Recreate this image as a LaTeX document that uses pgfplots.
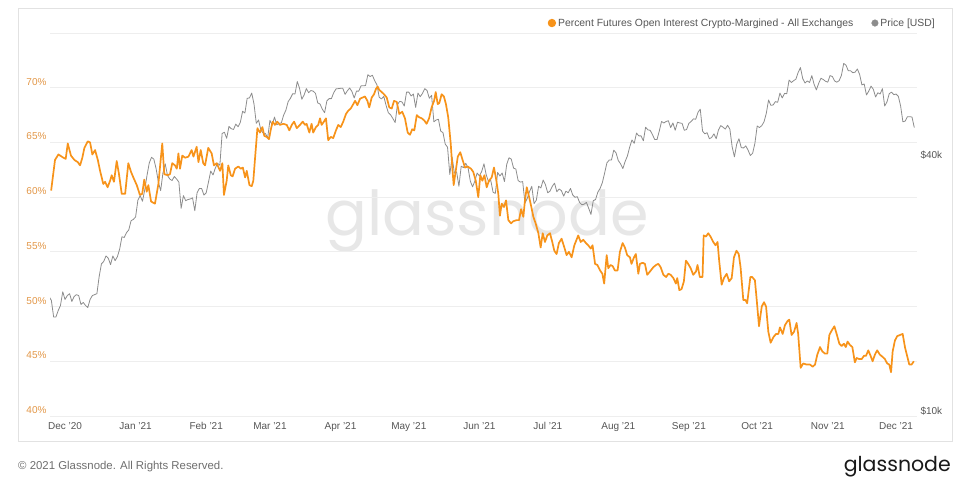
\documentclass[border=0pt]{standalone}
\usepackage{fontspec}
\setmainfont{Liberation Sans}
\newfontfamily\poppins{Poppins}
\usepackage{pgfplots}
\pgfplotsset{compat=1.18}
\definecolor{orangeL}{RGB}{247,147,26}
\definecolor{orangeT}{RGB}{226,150,70}
\definecolor{priceC}{RGB}{140,140,140}
\definecolor{gridC}{RGB}{238,238,238}
\definecolor{frameC}{RGB}{226,226,226}
\definecolor{labC}{RGB}{85,85,85}
\definecolor{wmC}{RGB}{231,231,231}

\pgfplotstableread{
d p
-7 19.1
-6 18.7
-5 17.1
-4 17.1
-3 17.7
-2 18.2
-1 19.6
0 18.8
1 19.2
2 19.4
3 18.6
4 19.1
5 19.3
6 19.2
7 18.3
8 18.5
9 18.2
10 18.0
11 18.8
12 19.2
13 19.3
14 19.4
15 21.3
16 22.8
17 23.1
18 23.8
19 23.5
20 22.7
21 23.8
22 23.2
23 23.7
24 24.7
25 26.4
26 26.3
27 27.0
28 27.4
29 28.8
30 29.0
31 29.4
32 32.2
33 33.0
34 32.0
35 34.0
36 36.8
37 39.4
38 40.6
39 40.2
40 38.2
41 35.5
42 33.9
43 37.3
44 39.2
45 36.8
46 36.1
47 35.8
48 36.6
49 36.1
50 35.5
51 30.8
52 33.0
53 32.1
54 32.3
55 32.4
56 32.6
57 30.4
58 33.5
59 34.3
60 34.3
61 33.1
62 33.5
63 35.5
64 37.7
65 36.9
66 38.3
67 39.3
68 38.9
69 46.2
70 46.5
71 45.0
72 48.0
73 47.4
74 47.2
75 48.6
76 47.9
77 49.1
78 52.1
79 51.6
80 55.9
81 56.0
82 57.5
83 54.2
84 48.8
85 49.7
86 47.1
87 46.3
88 46.2
89 45.1
90 49.6
91 48.4
92 50.5
93 48.4
94 48.8
95 48.9
96 51.0
97 52.4
98 54.9
99 55.9
100 57.3
101 57.2
102 61.2
103 59.0
104 55.6
105 56.9
106 58.9
107 57.6
108 58.3
109 58.1
110 57.4
111 54.5
112 54.2
113 52.7
114 51.7
115 55.1
116 55.8
117 55.8
118 57.6
119 58.8
120 58.9
121 59.0
122 59.0
123 57.1
124 58.2
125 59.1
126 58.0
127 56.0
128 58.1
129 58.1
130 59.8
131 59.8
132 59.9
133 63.5
134 62.9
135 63.3
136 61.5
137 60.1
138 56.2
139 55.7
140 56.5
141 53.8
142 51.7
143 51.1
144 50.1
145 49.0
146 54.0
147 55.0
148 54.8
149 53.6
150 57.8
151 57.8
152 56.6
153 57.2
154 53.2
155 57.5
156 56.4
157 57.4
158 58.9
159 58.3
160 55.9
161 56.8
162 49.2
163 49.7
164 49.9
165 46.8
166 46.4
167 43.6
168 42.9
169 37.0
170 40.7
171 37.3
172 37.5
173 34.7
174 38.7
175 38.4
176 39.3
177 38.4
178 35.7
179 34.6
180 35.7
181 37.3
182 36.7
183 37.6
184 39.2
185 36.9
186 35.6
187 35.8
188 33.6
189 33.4
190 37.4
191 36.7
192 37.3
193 35.6
194 39.1
195 40.5
196 40.2
197 38.3
198 38.1
199 35.8
200 35.5
201 35.6
202 31.7
203 32.5
204 33.7
205 34.7
206 31.6
207 32.2
208 34.7
209 34.4
210 35.9
211 35.0
212 33.5
213 33.8
214 34.7
215 35.3
216 33.7
217 34.2
218 33.9
219 32.9
220 33.8
221 33.5
222 34.3
223 33.1
224 32.7
225 32.8
226 31.8
227 31.4
228 31.5
229 31.8
230 30.8
231 29.8
232 32.1
233 32.3
234 33.6
235 34.3
236 35.4
237 37.3
238 39.4
239 40.0
240 40.0
241 42.2
242 41.6
243 39.9
244 39.2
245 38.2
246 39.7
247 40.9
248 42.9
249 44.6
250 43.8
251 46.3
252 45.6
253 45.6
254 44.4
255 47.8
256 47.1
257 47.0
258 45.9
259 44.7
260 44.7
261 46.8
262 49.3
263 48.9
264 49.3
265 49.5
266 47.7
267 48.9
268 47.0
269 49.1
270 48.9
271 48.8
272 47.0
273 47.2
274 48.8
275 49.3
276 50.0
277 49.9
278 51.8
279 52.7
280 46.8
281 46.1
282 46.4
283 44.9
284 45.2
285 46.1
286 44.9
287 47.1
288 48.2
289 47.8
290 47.3
291 48.3
292 47.3
293 43.0
294 40.7
295 43.6
296 44.9
297 42.8
298 42.7
299 43.2
300 42.2
301 41.0
302 41.5
303 43.8
304 48.1
305 47.7
306 48.2
307 49.2
308 51.5
309 55.4
310 53.8
311 53.9
312 54.9
313 54.7
314 57.5
315 56.0
316 57.4
317 57.3
318 61.7
319 60.9
320 61.5
321 62.0
322 64.3
323 66.0
324 62.2
325 60.7
326 61.4
327 60.9
328 63.2
329 60.3
330 58.5
331 60.6
332 62.3
333 61.9
334 61.3
335 61.0
336 63.2
337 62.9
338 61.4
339 61.0
340 61.5
341 63.3
342 67.5
343 66.9
344 64.9
345 64.9
346 64.2
347 64.4
348 65.5
349 63.6
350 60.1
351 60.4
352 56.9
353 58.1
354 59.7
355 58.7
356 56.3
357 57.6
358 57.2
359 58.9
360 53.6
361 54.8
362 57.3
363 57.8
364 57.0
365 57.2
366 56.5
367 53.6
368 49.2
369 49.4
370 50.6
371 50.6
372 50.5
373 47.7
}\pricetable

\pgfplotstableread{
d v
-6.1 60.6
-4.4 63.4
-2.9 63.9
-0.7 63.6
0.3 63.5
1.2 64.9
2.6 63.8
4.1 63.4
5.6 63.2
6.6 62.9
7.6 63.6
8.5 64.5
10.0 65.1
11.0 65.0
12.0 63.9
13.2 64.3
14.4 63.4
15.4 62.4
16.8 61.2
17.6 61.4
18.7 60.9
19.8 61.5
20.5 62.0
21.5 61.4
22.7 63.3
23.7 62.1
24.9 60.3
26.4 60.3
27.8 63.1
29.0 62.3
30.0 61.8
31.5 61.1
32.9 60.2
33.9 60.3
34.8 61.6
35.9 60.5
36.6 61.1
37.8 59.6
39.5 59.4
41.0 61.2
42.7 64.9
43.6 62.1
45.1 62.0
46.1 62.1
47.1 63.1
48.3 62.9
49.1 62.6
49.8 64.0
50.5 62.6
51.5 63.8
52.7 63.6
54.2 63.7
55.6 64.3
56.4 63.7
57.8 64.6
58.6 63.2
59.6 64.3
60.7 63.1
61.5 62.9
62.9 64.5
64.4 64.0
65.4 62.9
66.6 63.1
68.1 62.4
69.1 63.1
69.8 60.2
71.0 61.5
71.7 62.9
72.8 62.0
73.6 61.9
74.7 62.6
76.1 62.8
77.2 62.6
78.1 62.7
79.1 61.8
79.8 62.4
81.0 61.1
82.0 61.0
82.7 61.5
83.4 63.4
84.5 66.3
85.6 65.9
86.7 66.4
87.5 65.6
88.6 65.5
89.6 65.3
90.3 66.1
91.2 66.9
92.2 66.6
93.2 66.9
94.4 66.6
95.9 66.7
97.4 66.6
98.5 66.1
99.6 66.6
100.6 66.9
101.8 66.3
103.2 66.6
104.4 66.9
105.4 66.6
106.1 66.7
107.3 65.9
108.3 66.7
109.0 65.9
110.2 66.4
111.2 66.6
112.0 67.2
112.7 66.6
113.7 66.9
114.6 67.2
115.6 65.2
116.7 65.5
117.8 65.4
119.0 66.1
120.0 66.6
121.1 66.4
122.2 66.9
123.4 67.6
124.4 67.9
125.5 68.1
126.6 68.5
127.4 68.8
128.4 68.4
129.6 69.0
130.7 69.1
131.7 69.2
132.8 68.8
133.6 68.2
134.7 69.1
135.7 69.4
136.6 69.9
137.3 70.1
138.0 69.8
139.1 69.6
140.1 69.4
141.3 69.1
142.4 68.2
143.5 68.1
144.5 68.8
145.7 68.7
146.8 67.6
148.1 67.8
149.3 67.2
150.5 65.9
151.5 65.7
152.5 66.2
153.4 66.1
154.5 67.5
155.5 67.3
156.7 67.2
157.8 67.0
158.8 66.7
159.9 67.2
161.0 68.2
162.1 68.8
162.8 69.6
163.7 68.5
164.4 68.6
165.4 69.4
166.4 69.2
167.3 68.5
168.3 67.3
169.4 64.9
170.1 62.7
170.7 61.1
171.6 62.4
172.5 63.7
173.6 64.1
174.6 63.4
175.7 62.7
176.8 62.8
178.3 62.6
179.3 62.3
180.4 61.5
181.5 60.0
182.4 62.0
183.3 61.5
184.2 62.0
185.2 60.9
186.2 61.5
187.4 61.8
188.4 62.7
189.3 61.7
190.3 60.3
191.0 58.3
191.8 59.4
192.8 59.1
193.7 59.7
194.7 57.9
195.9 57.6
196.9 57.8
198.4 57.9
199.4 57.9
200.3 58.9
201.3 58.2
202.0 59.7
202.8 60.9
203.5 60.3
204.5 59.4
205.7 58.2
206.7 57.6
207.9 56.7
208.9 55.4
209.8 56.7
210.8 55.9
211.8 56.5
213.0 56.7
214.0 55.9
214.9 55.1
215.9 54.8
216.9 55.8
218.1 56.2
219.3 55.4
220.3 54.7
221.3 55.0
222.5 54.5
223.7 55.6
225.4 56.5
226.5 55.9
227.6 56.1
228.8 55.8
229.8 55.6
230.9 55.3
231.7 55.6
232.8 53.9
233.8 53.8
235.0 53.3
236.0 53.0
236.8 52.1
237.9 54.7
238.6 53.5
239.6 53.8
240.5 53.7
241.5 53.3
242.7 53.3
243.7 55.0
244.9 55.8
245.9 55.4
246.9 54.7
248.1 54.5
248.8 53.9
249.9 54.5
250.7 54.8
251.8 53.0
252.5 53.9
253.7 54.0
254.7 53.9
255.7 52.9
256.9 53.2
258.4 53.6
259.6 53.8
260.6 53.9
261.6 53.6
262.8 52.9
264.0 52.7
265.0 53.0
266.0 52.9
267.2 52.6
268.3 52.1
268.9 52.6
269.8 51.5
270.8 51.6
271.8 52.3
272.7 54.2
273.7 53.9
274.8 53.5
275.9 52.9
277.1 53.2
277.8 53.8
278.8 52.7
280.0 52.7
280.5 56.5
281.5 56.4
282.5 56.7
283.5 56.4
284.7 55.9
285.7 55.6
286.6 55.9
287.3 54.2
288.4 52.0
289.4 52.6
290.6 53.0
291.7 52.3
292.8 52.6
293.8 54.5
294.9 55.1
295.9 54.8
296.7 53.6
297.9 50.6
298.9 50.6
299.6 50.3
301.0 52.7
301.8 52.7
303.0 52.4
303.8 50.6
304.8 48.2
306.0 50.0
307.0 50.4
307.9 50.0
308.9 47.7
309.9 46.7
311.1 47.2
312.3 47.5
313.3 47.5
314.0 48.1
315.2 47.5
316.2 48.3
317.4 48.7
318.1 48.8
319.1 47.4
320.2 47.7
321.3 48.5
322.0 47.5
323.1 44.4
324.2 44.8
325.7 44.7
327.2 44.7
328.4 44.5
329.4 44.7
330.4 45.6
331.6 46.3
332.6 45.9
333.8 45.7
334.8 45.7
335.7 47.4
336.7 47.8
337.9 48.2
338.9 47.5
340.1 46.6
341.1 46.4
342.1 46.6
342.9 46.3
343.7 46.8
344.7 46.5
345.8 46.3
346.9 44.9
347.7 45.3
348.8 45.2
349.9 45.2
350.9 45.5
351.8 45.5
352.8 46.0
353.8 45.5
354.7 45.0
355.7 45.6
356.7 46.0
357.9 45.6
359.1 45.4
360.1 45.2
361.1 44.8
362.0 44.7
362.8 44.0
363.5 45.9
364.5 46.9
365.5 47.3
366.7 47.4
367.9 47.5
368.9 46.3
369.6 45.7
370.8 44.7
371.8 44.7
372.8 45.0
}\pcttable

\begin{document}
\begin{tikzpicture}[x=1bp,y=1bp]
\path[use as bounding box] (0,0) rectangle (974,489);
\node[anchor=base, text=wmC, font=\poppins\fontsize{62bp}{70bp}\selectfont, inner sep=0pt] at (487,253) {glassnode};
\draw[frameC, line width=0.8bp] (18,48) rectangle (952,481);

\pgfplotsset{common/.style={at={(50bp,73bp)}, anchor=south west, width=867bp, height=383bp, scale only axis, xmin=-6.6, xmax=374.2, axis line style={draw=none}, major tick length=0pt}}

\begin{axis}[common, ymin=40, ymax=75,
  ytick={40,45,50,55,60,65,70,75},
  yticklabels={40\%,45\%,50\%,55\%,60\%,65\%,70\%,{}},
  ymajorgrids, major grid style={gridC, line width=0.7bp},
  yticklabel style={text=orangeT, font=\fontsize{10bp}{12bp}\selectfont, yshift=6bp},
  xtick={0,31,62,90,121,151,182,212,243,274,304,335,365},
  xticklabels={Dec '20,Jan '21,Feb '21,Mar '21,Apr '21,May '21,Jun '21,Jul '21,Aug '21,Sep '21,Oct '21,Nov '21,Dec '21},
  xticklabel style={text=labC, font=\fontsize{10bp}{12bp}\selectfont, yshift=-3bp}]
\end{axis}

\begin{axis}[common, ymode=log, ymin=10, ymax=79.63,
  xtick=\empty, ytick={10,40}, yticklabels={\$10k,\$40k},
  yticklabel pos=right,
  yticklabel style={text=labC, font=\fontsize{10bp}{12bp}\selectfont, yshift=5bp}]
\addplot[priceC, line width=0.8bp, line join=round] table[x=d, y=p] {\pricetable};
\end{axis}

\begin{axis}[common, hide axis, ymin=40, ymax=75,
  legend style={at={(1.023,1.026)}, anchor=east, draw=none, fill=none,
    font=\fontsize{10.4bp}{12bp}\selectfont, text=labC, inner sep=0pt,
    /tikz/every even column/.append style={column sep=16bp}},
  legend columns=2,
  legend image code/.code={\fill (0bp,0bp) circle (3.3bp);}]
\addplot[orangeL, line width=1.7bp, line join=round] table[x=d, y=v] {\pcttable};
\addlegendentry{Percent Futures Open Interest Crypto-Margined - All Exchanges}
\addlegendimage{priceC}
\addlegendentry{Price [USD]}
\end{axis}

\node[anchor=base west, text={rgb,255:red,110;green,110;blue,110}, font=\fontsize{11.4bp}{13bp}\selectfont, inner sep=0pt] at (18,19) {\textcopyright{} 2021 Glassnode. All Rights Reserved.};
\node[anchor=base east, text={rgb,255:red,25;green,25;blue,25}, font=\poppins\fontsize{20.5bp}{24bp}\selectfont, inner sep=0pt] at (951,17) {glassnode};
\end{tikzpicture}
\end{document}
